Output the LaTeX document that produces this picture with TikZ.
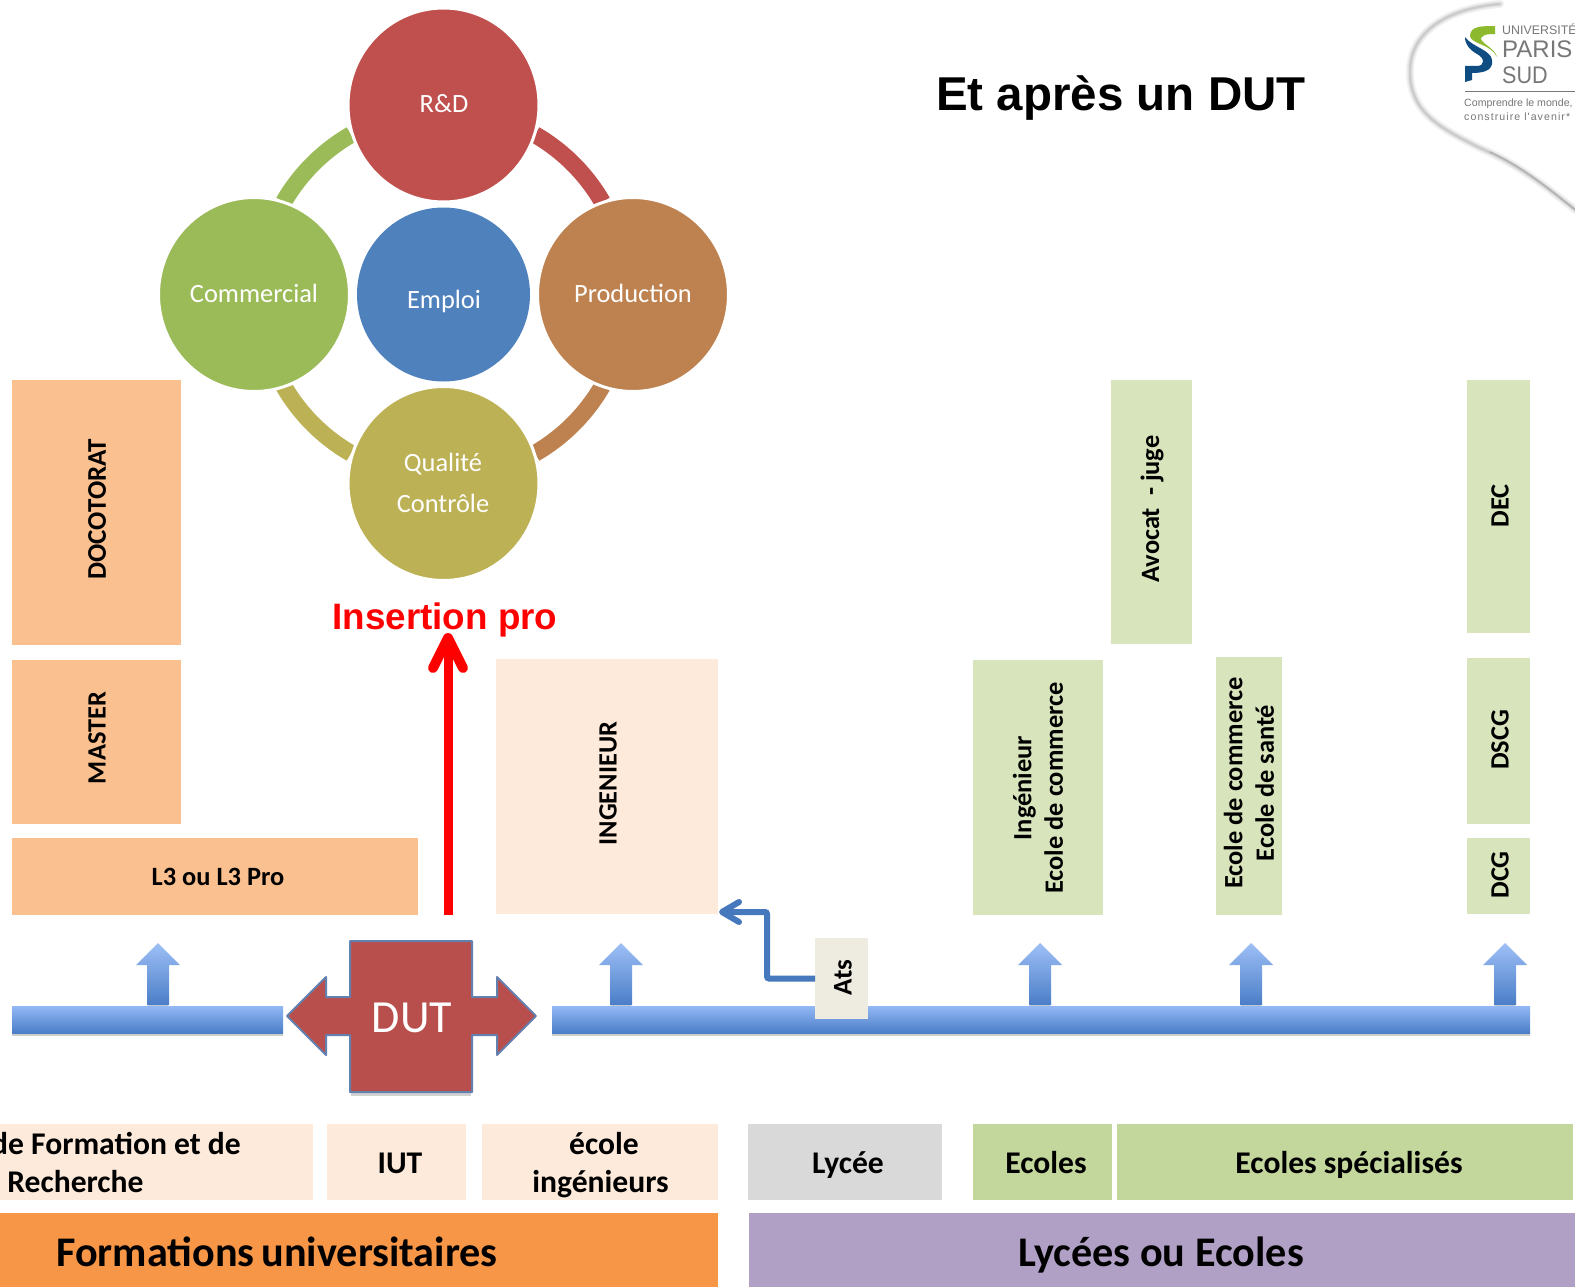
\documentclass[tikz,border=0pt]{standalone}
\usepackage{fontspec}
\setmainfont{Carlito}
\newfontfamily\arialfont{Liberation Sans}
\newfontfamily\logowide[LetterSpace=10]{Liberation Sans}
\usetikzlibrary{arrows.meta,shapes.geometric}
\definecolor{peach}{HTML}{FBC08F}
\definecolor{cream}{HTML}{FDEADA}
\definecolor{pale}{HTML}{D8E4BC}
\definecolor{midgreen}{HTML}{C3D69B}
\definecolor{cred}{HTML}{C0504D}
\definecolor{cgreen}{HTML}{9BBB59}
\definecolor{cblue}{HTML}{4F81BD}
\definecolor{cbrown}{HTML}{BE8250}
\definecolor{colive}{HTML}{BDB155}
\definecolor{bartop}{HTML}{93B8F5}
\definecolor{barbot}{HTML}{4A7EC7}
\definecolor{dutfill}{HTML}{B94F4C}
\definecolor{dutline}{HTML}{6480AE}
\definecolor{logogreen}{HTML}{8DB92E}
\definecolor{logoblue}{HTML}{0F4C81}
\definecolor{logogray}{HTML}{777777}
\definecolor{atsfill}{HTML}{EEECE1}
\definecolor{pureRed}{HTML}{FF0000}
\definecolor{orangeb}{HTML}{F79646}
\definecolor{purpleb}{HTML}{B0A0C5}
\newcommand{\fs}[1]{\fontsize{#1}{#1}\selectfont}
\newcommand{\bx}[6]{%
  \pgfmathsetmacro{\bxcx}{(#2+#4)/2}%
  \pgfmathsetmacro{\bxcy}{-(#3+#5)/2}%
  \pgfmathsetmacro{\bxw}{#4-#2}%
  \pgfmathsetmacro{\bxh}{#5-#3}%
  \node[rectangle,inner sep=0pt,outer sep=0pt,draw=none,minimum width=\bxw pt,minimum height=\bxh pt,fill=#6] (#1) at (\bxcx,\bxcy) {};}
\newcommand{\uparr}[1]{%
  \fill[black!18] (#1-10,-1003) rectangle (#1+10,-1007);
  \path[top color=bartop!90!white,bottom color=barbot]
    (#1,-943) -- (#1+22,-965) -- (#1+11,-965) -- (#1+11,-1005) -- (#1-11,-1005) -- (#1-11,-965) -- (#1-22,-965) -- cycle;}
\tikzset{
  ring/.style={line width=17pt,draw=#1},
  disc/.style={ellipse,inner sep=0pt,outer sep=0pt,minimum width=191pt,minimum height=194pt,fill=#1,draw=white,line width=3pt},
  disctext/.style={text=white,font=\fs{26.4}},
  lab/.style={text=black,font=\bfseries\fs{26.4},inner sep=0pt},
  vlab/.style={lab,rotate=90,align=center},
  blab/.style={lab,font=\bfseries\fs{31.6},align=center,anchor=base},
  bigl/.style={lab,font=\bfseries\fs{42.2},anchor=base},
  bar/.style={top color=bartop,bottom color=barbot,rectangle,inner sep=0pt,outer sep=0pt},
  softshadow/.style={fill=black!20},
  logot/.style={text=logogray,inner sep=0pt,anchor=west},
}
\begin{document}
\begin{tikzpicture}[x=1pt,y=1pt]
\path[use as bounding box,clip] (0,0) rectangle (1575,-1287);
\fill[white] (0,0) rectangle (1575,-1287);
% ring segments
\coordinate (ringc) at (443,-294);
\draw[ring=cred]   ([shift={(60:184pt)}]ringc) arc[start angle=60,end angle=30,radius=184pt];
\draw[ring=cgreen] ([shift={(120:184pt)}]ringc) arc[start angle=120,end angle=150,radius=184pt];
\draw[ring=colive] ([shift={(210:184pt)}]ringc) arc[start angle=210,end angle=240,radius=184pt];
\draw[ring=cbrown] ([shift={(300:184pt)}]ringc) arc[start angle=300,end angle=330,radius=184pt];
% discs
\node[disc=cred]    (rd)   at (443.5,-105) {};
\node[disc=cgreen]  (com)  at (254,-294.5) {};
\node[disc=cbrown]  (prod) at (633,-294.5) {};
\node[disc=colive]  (qual) at (443.5,-483.5) {};
\node[ellipse,inner sep=0pt,outer sep=0pt,fill=cblue,minimum width=173pt,minimum height=174pt] (emp) at (443.5,-294.5) {};
\node[disctext] (rdt)   at (444,-104) {R\&D};
\node[disctext] (comt)  at (254,-293) {Commercial};
\node[disctext] (empt)  at (444,-301) {Emploi};
\node[disctext] (prodt) at (633,-293) {Production};
\node[disctext] (qualt) at (443,-464) {Qualité};
\node[disctext] (cont)  at (443,-503) {Contrôle};
% title
\node[font=\arialfont\bfseries\fs{47.5},inner sep=0pt] (title) at (1121,-98) {Et après un DUT};
\node[font=\arialfont\bfseries\fs{36.8},text=pureRed,inner sep=0pt] (ins) at (445,-620) {Insertion pro};
% upper boxes
\bx{doc}{12}{380}{181}{645}{peach}
\bx{mas}{12}{660}{181}{824}{peach}
\bx{lt}{12}{838}{418}{915}{peach}
\bx{ing}{496}{659}{718}{914}{cream}
\bx{inge}{973}{660}{1103}{915}{pale}
\bx{avo}{1111}{380}{1192}{644}{pale}
\bx{eco}{1216}{657}{1282}{915}{pale}
\bx{dec}{1467}{380}{1530}{633}{pale}
\bx{dscg}{1467}{658}{1530}{824}{pale}
\bx{dcg}{1467}{838}{1530}{914}{pale}
\node[vlab,font=\bfseries\fs{27}] (doct) at (97,-509) {DOCOTORAT};
\node[vlab] (mast) at (97,-738) {MASTER};
\node[lab] (ltt) at (218,-877) {L3 ou L3 Pro};
\node[vlab] (ingt) at (608,-783.5) {INGENIEUR};
\node[vlab] (inget) at (1038,-788) {Ingénieur\\[5pt]Ecole de commerce};
\node[vlab] (avot) at (1152,-509) {Avocat \ - juge};
\node[vlab] (ecot) at (1249,-783) {Ecole de commerce\\[5pt]Ecole de santé};
\node[vlab] (dect) at (1500,-506) {DEC};
\node[vlab] (dscgt) at (1500,-740) {DSCG};
\node[vlab] (dcgt) at (1500,-875) {DCG};
% up arrows
\uparr{158}
\uparr{621}
\uparr{1040}
\uparr{1251}
\uparr{1505}
% bars
\fill[black!20] (12,-1006) rectangle (283,-1036);
\fill[black!20] (552,-1006) rectangle (1530,-1036);
\node[bar,minimum width=271pt,minimum height=27pt] (barl) at (147.5,-1019.5) {};
\node[bar,minimum width=978pt,minimum height=27pt] (barr) at (1041,-1019.5) {};
% DUT
\fill[black!18] (351,-1090) rectangle (471,-1096);
\path[fill=dutfill,draw=dutline,line width=2pt,line join=round]
  (350,-941) -- (472,-941) -- (472,-997) -- (497,-997) -- (497,-977) -- (536,-1016) -- (497,-1055) -- (497,-1035) -- (472,-1035) -- (472,-1092) -- (350,-1092) -- (350,-1035) -- (326,-1035) -- (326,-1055) -- (287,-1016) -- (326,-977) -- (326,-997) -- (350,-997) -- cycle;
\node[text=white,font=\fs{46},inner sep=0pt] (dut) at (412,-1018) {DUT};
% Ats
\bx{ats}{815}{938}{868}{1019}{atsfill}
\node[vlab,font=\bfseries\fs{27}] (atst) at (843,-977.5) {Ats};
\draw[line width=6pt,draw=barbot!95!black,rounded corners=2pt,-{Straight Barb[length=17pt,width=20pt,line width=6pt,round]},shorten >=1pt]
  (ats.west) -- ++(-48,0) |- ([yshift=2pt]ing.south east);
% red arrow
\coordinate (redstart) at (448,-915);
\coordinate (redend) at (448,-633);
\draw[line width=9pt,draw=pureRed,-{Straight Barb[length=30pt,width=30pt,line width=10pt,round]}] (redstart) -- (redend);
% bottom boxes
\bx{ufr}{0}{1124}{313}{1200}{cream}
\bx{iut}{327}{1124}{466}{1200}{cream}
\bx{eci}{482}{1124}{718}{1200}{cream}
\bx{lyc}{748}{1124}{942}{1200}{black!15}
\bx{ecs}{973}{1124}{1112}{1200}{midgreen}
\bx{esp}{1117}{1124}{1573}{1200}{midgreen}
\bx{fu}{0}{1213}{718}{1287}{orangeb}
\bx{le}{749}{1213}{1575}{1287}{purpleb}
\node[blab,anchor=base east] (ufra) at (241,-1154) {de Formation et de};
\node[blab] (ufrb) at (75.5,-1192) {Recherche};
\node[blab] (iutt) at (400,-1173) {IUT};
\node[blab] (ecia) at (604,-1154) {école};
\node[blab] (ecib) at (600.5,-1192) {ingénieurs};
\node[blab] (lyct) at (848,-1173) {Lycée};
\node[blab] (ecst) at (1046,-1173) {Ecoles};
\node[blab] (espt) at (1349,-1173) {Ecoles spécialisés};
\node[bigl] (fut) at (277,-1266) {Formations\,universitaires};
\node[bigl] (let) at (1161,-1266) {Lycées ou Ecoles};
% logo curve
\foreach \wd/\col in {8/5,5/11,2.5/20}{
  \draw[line width=\wd pt,draw=black!\col,line cap=round]
    (1500,-4) .. controls (1450,-8) and (1411,-30) .. (1410,-70)
    .. controls (1409,-112) and (1440,-128) .. (1480,-148)
    .. controls (1520,-165) and (1550,-190) .. (1578,-212);
}
\draw[line width=1.5pt,draw=black!30,line cap=round]
    (1490,-152) .. controls (1525,-168) and (1550,-190) .. (1578,-212);
% logo
\fill[logogreen] (1495,-26) .. controls (1482,-26) and (1470,-26) .. (1470,-36) .. controls (1471,-44) and (1491,-44) .. (1497,-57) .. controls (1495,-48) and (1480,-43) .. (1481,-38) .. controls (1483,-34) and (1490,-34) .. (1495,-34) -- cycle;
\fill[logoblue] (1465,-37) .. controls (1472,-47) and (1491,-50) .. (1492,-60) .. controls (1494,-72) and (1480,-73) .. (1472,-73) -- (1472,-80) -- (1465,-82) -- (1465,-66) -- (1477,-66) .. controls (1485,-66) and (1485,-58) .. (1477,-54) .. controls (1470,-50) and (1465,-45) .. (1465,-37) -- cycle;
\node[logot,font=\arialfont\fs{12.4}] (lga) at (1502,-29.5) {UNIVERSITÉ};
\node[logot,font=\arialfont\fs{24}] (lgb) at (1502,-49) {PARIS};
\node[logot,font=\arialfont\fs{24},xscale=.9] (lgc) at (1502,-75) {SUD};
\draw[draw=logogray,line width=1pt] (1465,-92) -- (1580,-92);
\node[logot,font=\arialfont\fs{10.6}] (lgd) at (1464,-104) {Comprendre le monde,};
\node[logot,font=\logowide\fs{10.6}] (lge) at (1464,-117) {construire l'avenir*};
\end{tikzpicture}
\end{document}
